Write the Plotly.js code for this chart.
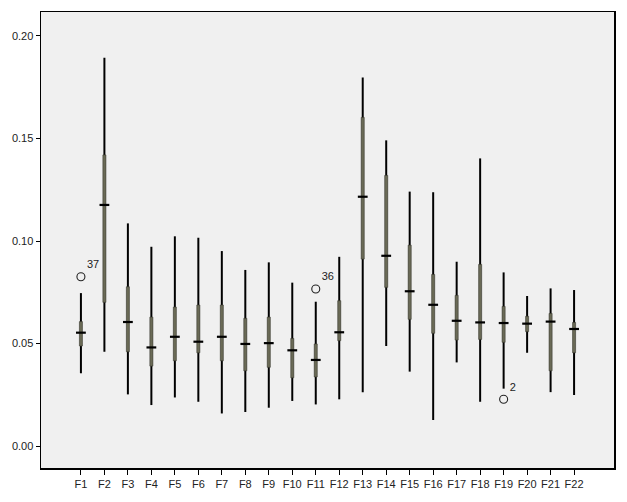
<!DOCTYPE html>
<html>
<head>
<meta charset="utf-8">
<script src="https://cdn.plot.ly/plotly-3.0.1.min.js"></script>
<style>html,body{margin:0;padding:0;background:#fff;}</style>
</head>
<body>
<div id="chart" style="width:627px;height:502px;"></div>
<script>
const categories = ["F1","F2","F3","F4","F5","F6","F7","F8","F9","F10","F11","F12","F13","F14","F15","F16","F17","F18","F19","F20","F21","F22"];
const lowerWhisker = [0.0355,0.046,0.0252,0.020,0.0237,0.0216,0.0159,0.0166,0.0187,0.0220,0.0203,0.0228,0.0262,0.0488,0.0363,0.0127,0.0408,0.0216,0.028,0.0455,0.0263,0.0249];
const q1Values     = [0.0488,0.0701,0.046,0.039,0.0416,0.0455,0.0416,0.0367,0.0384,0.0333,0.0337,0.0514,0.0912,0.0774,0.0618,0.055,0.0517,0.052,0.0506,0.0558,0.0367,0.0455];
const medianValues = [0.0553,0.1176,0.0605,0.0481,0.0533,0.0509,0.0533,0.0498,0.0502,0.0467,0.042,0.0555,0.1216,0.0928,0.0755,0.0689,0.0611,0.0603,0.060,0.0597,0.0607,0.0571];
const q3Values     = [0.0607,0.142,0.0777,0.0629,0.0678,0.0688,0.0688,0.0623,0.0629,0.0525,0.0498,0.0709,0.1603,0.132,0.098,0.0837,0.0735,0.0886,0.0681,0.0633,0.0647,0.0603];
const upperWhisker = [0.0746,0.1894,0.1086,0.0972,0.1023,0.1016,0.0951,0.0859,0.0896,0.0797,0.0704,0.0923,0.1798,0.1491,0.1241,0.1238,0.0899,0.1403,0.0847,0.0732,0.0769,0.0761];
const outlierCats   = ["F1","F11","F19"];
const outlierValues = [0.0826,0.0766,0.0228];
const outlierLabels = ["37","36","2"];
const yTickVals = [0,0.05,0.10,0.15,0.20];

const whiskerSpan = upperWhisker.map((u,i)=>u-lowerWhisker[i]);
const boxSpan = q3Values.map((q,i)=>q-q1Values[i]);

const font = {family:"Liberation Sans, Arial, sans-serif", size:11, color:"#222"};

const traces = [
  {type:"bar", x:categories, y:whiskerSpan, base:lowerWhisker, width:0.085,
   marker:{color:"#000", line:{width:0}}, hoverinfo:"skip"},
  {type:"bar", x:categories, y:boxSpan, base:q1Values, width:0.13,
   marker:{color:"#6a6a56", line:{width:0.6, color:"#3a3a30"}}, hoverinfo:"skip"},
  {type:"scatter", mode:"markers", x:categories, y:medianValues,
   marker:{symbol:"line-ew", size:7, line:{width:2.2, color:"#000"}}, hoverinfo:"skip"},
  {type:"scatter", mode:"markers+text", x:outlierCats, y:outlierValues, text:outlierLabels,
   textposition:"top right", textfont:{family:font.family, size:11, color:"#222"},
   marker:{symbol:"circle-open", size:8, color:"#222", line:{width:1.1}}, hoverinfo:"skip", cliponaxis:false}
];

const layout = {
  width:627, height:502,
  margin:{l:41, r:13, t:12, b:34},
  paper_bgcolor:"#ffffff", plot_bgcolor:"#f0f0f0",
  showlegend:false, barmode:"overlay",
  font:font,
  xaxis:{type:"category", categoryorder:"array", categoryarray:categories,
    range:[-1.7,22.7], showgrid:false, zeroline:false,
    showline:true, linecolor:"#000", linewidth:1.5, mirror:true,
    ticks:"outside", ticklen:5, tickcolor:"#000", tickfont:font},
  yaxis:{range:[-0.0107,0.2117], tickvals:yTickVals, tickformat:".2f",
    showgrid:false, zeroline:false,
    showline:true, linecolor:"#000", linewidth:1.5, mirror:true,
    ticks:"outside", ticklen:4, tickcolor:"#000", tickfont:font}
};

Plotly.newPlot("chart", traces, layout, {staticPlot:true, displayModeBar:false});
</script>
</body>
</html>
